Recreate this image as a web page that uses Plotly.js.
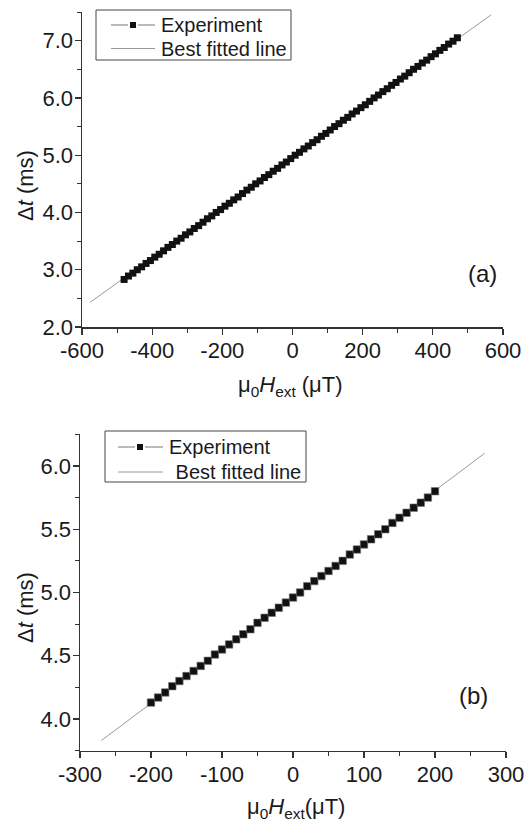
<!DOCTYPE html>
<html>
<head>
<meta charset="utf-8">
<script src="https://cdn.plot.ly/plotly-3.0.1.min.js"></script>
<style>
html,body{margin:0;padding:0;background:#fff;}
#plot{width:531px;height:825px;}
</style>
</head>
<body>
<div id="plot"></div>
<script>
// Panel (a) experiment data: applied field (µT) vs delay (ms)
var fieldA = [-480,-467.5,-455,-442.5,-430,-417.5,-405,-392.5,-380,-367.5,-355,-342.5,-330,-317.5,-305,-292.5,-280,-267.5,-255,-242.5,-230,-217.5,-205,-192.5,-180,-167.5,-155,-142.5,-130,-117.5,-105,-92.5,-80,-67.5,-55,-42.5,-30,-17.5,-5,7.5,20,32.5,45,57.5,70,82.5,95,107.5,120,132.5,145,157.5,170,182.5,195,207.5,220,232.5,245,257.5,270,282.5,295,307.5,320,332.5,345,357.5,370,382.5,395,407.5,420,432.5,445,457.5,470];
var delayA = [2.83,2.89,2.94,3.00,3.05,3.11,3.16,3.22,3.27,3.33,3.39,3.44,3.50,3.55,3.61,3.66,3.72,3.77,3.83,3.89,3.94,4.00,4.05,4.11,4.16,4.22,4.27,4.33,4.39,4.44,4.50,4.55,4.61,4.66,4.72,4.77,4.83,4.88,4.94,5.00,5.05,5.11,5.16,5.22,5.27,5.33,5.38,5.44,5.50,5.55,5.61,5.66,5.72,5.77,5.83,5.88,5.94,6.00,6.05,6.11,6.16,6.22,6.27,6.33,6.38,6.44,6.50,6.55,6.61,6.66,6.72,6.77,6.83,6.88,6.94,6.99,7.05];
// Panel (a) best fitted line end points
var fitFieldA = [-577, 566];
var fitDelayA = [2.43, 7.45];

// Panel (b) experiment data
var fieldB = [-200,-190,-180,-170,-160,-150,-140,-130,-120,-110,-100,-90,-80,-70,-60,-50,-40,-30,-20,-10,0,10,20,30,40,50,60,70,80,90,100,110,120,130,140,150,160,170,180,190,200];
var delayB = [4.13,4.17,4.21,4.26,4.30,4.34,4.38,4.42,4.46,4.51,4.55,4.59,4.63,4.67,4.71,4.76,4.80,4.84,4.88,4.92,4.96,5.00,5.05,5.09,5.13,5.17,5.21,5.25,5.30,5.34,5.38,5.42,5.46,5.50,5.55,5.59,5.63,5.67,5.71,5.75,5.80];
// Panel (b) best fitted line end points
var fitFieldB = [-270, 270];
var fitDelayB = [3.83, 6.10];

// Tick values and labels
var xTickValsA = [-600,-400,-200,0,200,400,600];
var xTickTextA = ["-600","-400","-200","0","200","400","600"];
var yTickValsA = [2,3,4,5,6,7];
var yTickTextA = ["2.0","3.0","4.0","5.0","6.0","7.0"];
var xTickValsB = [-300,-200,-100,0,100,200,300];
var xTickTextB = ["-300","-200","-100","0","100","200","300"];
var yTickValsB = [4.0,4.5,5.0,5.5,6.0];
var yTickTextB = ["4.0","4.5","5.0","5.5","6.0"];

// Labels
var seriesNames = ["Experiment", "Best fitted line", " Best fitted line"];
var panelLabels = ["(a)", "(b)"];
var xTitleA = "\u03bc<sub>0</sub><i>H</i><sub>ext</sub> (\u03bcT)";
var xTitleB = "\u03bc<sub>0</sub><i>H</i><sub>ext</sub>(\u03bcT)";
var yTitle = "\u0394<i>t</i> (ms)";

var FONT = "Liberation Sans, Arial, Helvetica, sans-serif";
var INK = "#1a1a1a";
var W = 531, H = 825;
function px(x) { return x / W; }
function py(y) { return 1 - y / H; }

var traces = [
  {x: fitFieldA, y: fitDelayA, xaxis: "x", yaxis: "y", mode: "lines", name: seriesNames[1],
   line: {color: "#9a9a9a", width: 1}, showlegend: false},
  {x: fieldA, y: delayA, xaxis: "x", yaxis: "y", mode: "lines+markers", name: seriesNames[0],
   line: {color: "#8a8a8a", width: 1},
   marker: {symbol: "square", size: 7, color: "#111", line: {width: 0}}, showlegend: false},
  {x: fitFieldB, y: fitDelayB, xaxis: "x2", yaxis: "y2", mode: "lines", name: seriesNames[2],
   line: {color: "#9a9a9a", width: 1}, showlegend: false},
  {x: fieldB, y: delayB, xaxis: "x2", yaxis: "y2", mode: "lines+markers", name: seriesNames[0],
   line: {color: "#8a8a8a", width: 1},
   marker: {symbol: "square", size: 7.5, color: "#111", line: {color: "#777", width: 0.6}}, showlegend: false}
];

function axisBase(extra) {
  var a = {
    showgrid: false, zeroline: false, showline: true, linecolor: "#333", linewidth: 1.5,
    ticks: "outside", ticklen: 6, tickwidth: 1.3, tickcolor: "#333", tickmode: "array",
    ticklabelstandoff: -3,
    tickfont: {family: FONT, size: 22, color: INK}, mirror: false, fixedrange: true
  };
  for (var k in extra) a[k] = extra[k];
  return a;
}
function minorTicks(d) {
  return {dtick: d, tickmode: "linear", ticks: "outside", ticklen: 4, tickcolor: "#333", tickwidth: 1};
}

// Hand-drawn legend boxes (box, sample lines, sample marker, texts)
function legendShapes(box, sym, rowY, mk) {
  return [
    {type: "rect", xref: "paper", yref: "paper", x0: px(box[0]), x1: px(box[1]), y0: py(box[2]), y1: py(box[3]),
     line: {color: "#444", width: 1}, fillcolor: "#fff", layer: "above"},
    {type: "line", xref: "paper", yref: "paper", x0: px(sym[0]), x1: px(mk - 5), y0: py(rowY[0]), y1: py(rowY[0]),
     line: {color: "#777", width: 1}, layer: "above"},
    {type: "line", xref: "paper", yref: "paper", x0: px(mk + 5), x1: px(sym[1]), y0: py(rowY[0]), y1: py(rowY[0]),
     line: {color: "#777", width: 1}, layer: "above"},
    {type: "rect", xref: "paper", yref: "paper", x0: px(mk - 3), x1: px(mk + 3), y0: py(rowY[0] + 3), y1: py(rowY[0] - 3),
     line: {width: 0}, fillcolor: "#111", layer: "above"},
    {type: "line", xref: "paper", yref: "paper", x0: px(sym[0]), x1: px(sym[1]), y0: py(rowY[1]), y1: py(rowY[1]),
     line: {color: "#9a9a9a", width: 1}, layer: "above"}
  ];
}
var shapes = [].concat(
  legendShapes([96, 291, 10, 60], [111, 155], [25, 48.5], 133),
  legendShapes([105, 306, 431, 482], [118, 163], [447, 472], 140)
);

function legendText(t, x, y) {
  return {text: t, xref: "paper", yref: "paper", x: px(x), y: py(y), xanchor: "left", yanchor: "middle",
    showarrow: false, font: {family: FONT, size: 20, color: INK}};
}

var layout = {
  width: W, height: H,
  margin: {l: 0, r: 0, t: 0, b: 0},
  paper_bgcolor: "#fff", plot_bgcolor: "#fff",
  font: {family: FONT, color: INK},
  showlegend: false,
  xaxis: axisBase({domain: [px(82), px(503)], anchor: "y", range: [-600, 600], tickvals: xTickValsA, ticktext: xTickTextA,
    minor: minorTicks(100)}),
  yaxis: axisBase({domain: [py(327), py(12)], anchor: "x", range: [2, 7.5], tickvals: yTickValsA, ticktext: yTickTextA,
    minor: minorTicks(0.5)}),
  xaxis2: axisBase({domain: [px(80), px(506)], anchor: "y2", range: [-300, 300], tickvals: xTickValsB, ticktext: xTickTextB,
    minor: minorTicks(50)}),
  yaxis2: axisBase({domain: [py(750.7), py(434.3)], anchor: "x2", range: [3.75, 6.25], tickvals: yTickValsB, ticktext: yTickTextB,
    minor: minorTicks(0.25)}),
  shapes: shapes,
  annotations: [
    legendText(seriesNames[0], 159, 25),
    legendText(seriesNames[1], 159, 48.5),
    legendText(seriesNames[0], 167, 447),
    legendText(seriesNames[2], 168, 472),
    {text: panelLabels[0], xref: "paper", yref: "paper", x: px(482), y: py(273), xanchor: "center", yanchor: "middle",
     showarrow: false, font: {family: FONT, size: 24, color: INK}},
    {text: panelLabels[1], xref: "paper", yref: "paper", x: px(473), y: py(695), xanchor: "center", yanchor: "middle",
     showarrow: false, font: {family: FONT, size: 24, color: INK}},
    {text: xTitleA, xref: "paper", yref: "paper", x: px(291), y: py(386), xanchor: "center", yanchor: "middle",
     showarrow: false, font: {family: FONT, size: 22, color: INK}},
    {text: xTitleB, xref: "paper", yref: "paper", x: px(296), y: py(808), xanchor: "center", yanchor: "middle",
     showarrow: false, font: {family: FONT, size: 22, color: INK}},
    {text: yTitle, xref: "paper", yref: "paper", x: px(25), y: py(186), xanchor: "center", yanchor: "middle",
     showarrow: false, textangle: -90, font: {family: FONT, size: 22, color: INK}},
    {text: yTitle, xref: "paper", yref: "paper", x: px(25), y: py(608), xanchor: "center", yanchor: "middle",
     showarrow: false, textangle: -90, font: {family: FONT, size: 22, color: INK}}
  ]
};

Plotly.newPlot("plot", traces, layout, {displayModeBar: false, staticPlot: true});
</script>
</body>
</html>
